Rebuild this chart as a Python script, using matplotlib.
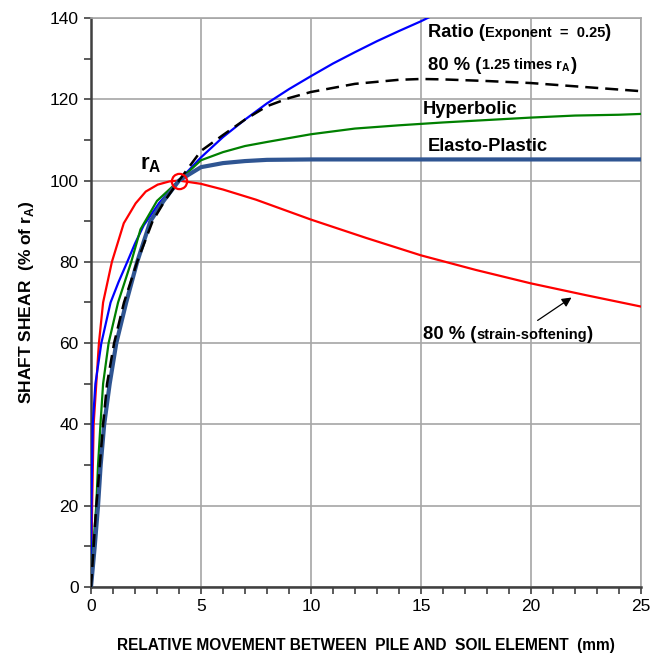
import numpy as np
import matplotlib
matplotlib.use("Agg")
import matplotlib.pyplot as plt
from matplotlib.offsetbox import TextArea, HPacker, AnnotationBbox

plt.rcParams['font.family'] = ['Liberation Sans', 'DejaVu Sans']
plt.rcParams['mathtext.fontset'] = 'custom'
plt.rcParams['mathtext.rm'] = 'Liberation Sans'
plt.rcParams['mathtext.bf'] = 'Liberation Sans:bold'

# Ratio function (exponent 0.25)
ratio_x = [0, 0.02, 0.08, 0.2, 0.47, 0.89, 1.25, 1.65, 2.0, 2.4, 3.1, 4.0,
           5, 6, 7, 8, 9, 10, 11, 12, 13, 14, 15, 15.6]
ratio_y = [0, 20, 40, 50, 60, 70, 75, 80, 84.5, 89, 94.5, 100,
           105.7, 110.7, 115, 119, 122.5, 125.7, 128.8, 131.6, 134.3, 136.8, 139.2, 140.8]

# 80 % (1.25 times rA)
peak_x = [0, 0.12, 0.24, 0.4, 0.55, 0.73, 1.05, 1.5, 2.1, 2.8, 3.35, 4, 5, 6, 7, 8, 9,
          10, 12, 14, 15, 16, 18, 20, 22, 25]
peak_y = [0, 10, 20, 30, 40, 50, 60, 70, 80, 90, 95, 100, 107.3, 111.2, 115, 118.3, 120.3,
          121.8, 123.8, 124.8, 125, 124.9, 124.5, 124, 123.2, 122]

# Hyperbolic
hyp_x = [0, 0.1, 0.24, 0.32, 0.43, 0.55, 0.8, 1.23, 1.83, 2.25, 3.0, 4, 5, 6, 7, 8,
         10, 12, 14, 16, 18, 20, 22, 24, 25]
hyp_y = [0, 10, 20, 30, 40, 50, 60, 70, 80, 88, 95, 100, 105, 107, 108.5, 109.5,
         111.4, 112.8, 113.6, 114.3, 114.9, 115.5, 116, 116.2, 116.4]

# Elasto-Plastic
ep_x = [0, 0.17, 0.32, 0.44, 0.6, 0.85, 1.15, 1.6, 2.1, 2.7, 3.3, 4, 5, 6, 7, 8,
        10, 15, 20, 25]
ep_y = [0, 10, 20, 30, 40, 50, 60, 70, 80, 90, 95, 100, 103.3, 104.3, 104.8, 105.1,
        105.2, 105.2, 105.2, 105.2]

# 80 % (strain-softening)
soft_x = [0, 0.01, 0.05, 0.12, 0.24, 0.36, 0.55, 0.95, 1.49, 2.03, 2.49, 3.03, 3.57, 4.0,
          5, 6, 7.5, 10, 12.5, 15, 17.5, 20, 22.5, 25]
soft_y = [0, 6, 20, 40, 50, 60, 70, 80, 89.5, 94.4, 97.3, 99, 99.8, 100,
          99.2, 97.8, 95.3, 90.4, 85.9, 81.6, 78, 74.7, 71.8, 69]

rA_x, rA_y = 4, 100

fig = plt.figure(figsize=(6.5, 6.58), dpi=100)
ax = fig.add_axes([0.14, 0.108, 0.846, 0.8646])

ax.plot(soft_x, soft_y, color='#FF0000', lw=1.6, zorder=3)
ax.plot(ratio_x, ratio_y, color='#0000FF', lw=1.6, zorder=3)
ax.plot(hyp_x, hyp_y, color='#008000', lw=1.6, zorder=3)
ax.plot(ep_x, ep_y, color='#2F5592', lw=3.0, zorder=4)
ax.plot(peak_x, peak_y, color='black', lw=1.8, ls=(0, (5.2, 2.8)), zorder=5)
ax.plot(rA_x, rA_y, 'o', ms=11, mfc='none', mec='#FF0000', mew=1.6, zorder=6)

ax.set_xlim(0, 25)
ax.set_ylim(0, 140)
ax.set_xticks(np.arange(0, 26, 5))
ax.set_yticks(np.arange(0, 141, 20))
ax.set_xticks(np.arange(0, 26, 1), minor=True)
ax.set_yticks(np.arange(0, 141, 10), minor=True)
ax.tick_params(which='both', direction='out', length=5, width=1.2, color='#404040',
               labelsize=12.5, pad=4)
ax.grid(True, which='major', color='#A6A6A6', lw=1.2)
ax.set_axisbelow(True)
for s in ['top', 'right']:
    ax.spines[s].set_color('#A6A6A6')
    ax.spines[s].set_linewidth(1.2)
for s in ['left', 'bottom']:
    ax.spines[s].set_color('#404040')
    ax.spines[s].set_linewidth(1.8)

ax.set_xlabel('RELATIVE MOVEMENT BETWEEN  PILE AND  SOIL ELEMENT  (mm)',
              fontsize=11.2, fontweight='bold', labelpad=17)
ax.set_ylabel(r'SHAFT SHEAR  (% of r$_\mathregular{A}$)', fontsize=12.5,
              fontweight='bold', labelpad=10)


def mixed(parts, xy):
    boxes = [TextArea(s, textprops=dict(fontsize=fs, fontweight='bold'))
             for s, fs in parts]
    pack = HPacker(children=boxes, align='baseline', pad=0, sep=0)
    ab = AnnotationBbox(pack, xy, xycoords='data', frameon=False,
                        box_alignment=(0, 0.5), zorder=7)
    ax.add_artist(ab)


big, small = 13.2, 10.5
mixed([('Ratio (', big), ('Exponent  =  0.25', small), (')', big)], (15.3, 136.5))
mixed([('80 % (', big), (r'1.25 times r$_\mathregular{A}$', small), (')', big)], (15.3, 128.3))
mixed([('Hyperbolic', big)], (15.1, 117.4))
mixed([('Elasto-Plastic', big)], (15.3, 108.3))
mixed([('80 % (', big), ('strain-softening', small), (')', big)], (15.1, 62))

ax.text(2.7, 104, r'r$_\mathregular{A}$', fontsize=16, fontweight='bold',
        ha='center', va='center')

ax.annotate('', xy=(21.95, 71.6), xytext=(20.2, 65.2),
            arrowprops=dict(arrowstyle='-|>', color='black', lw=0.9,
                            mutation_scale=14))

fig.savefig('out.png', dpi=100)
